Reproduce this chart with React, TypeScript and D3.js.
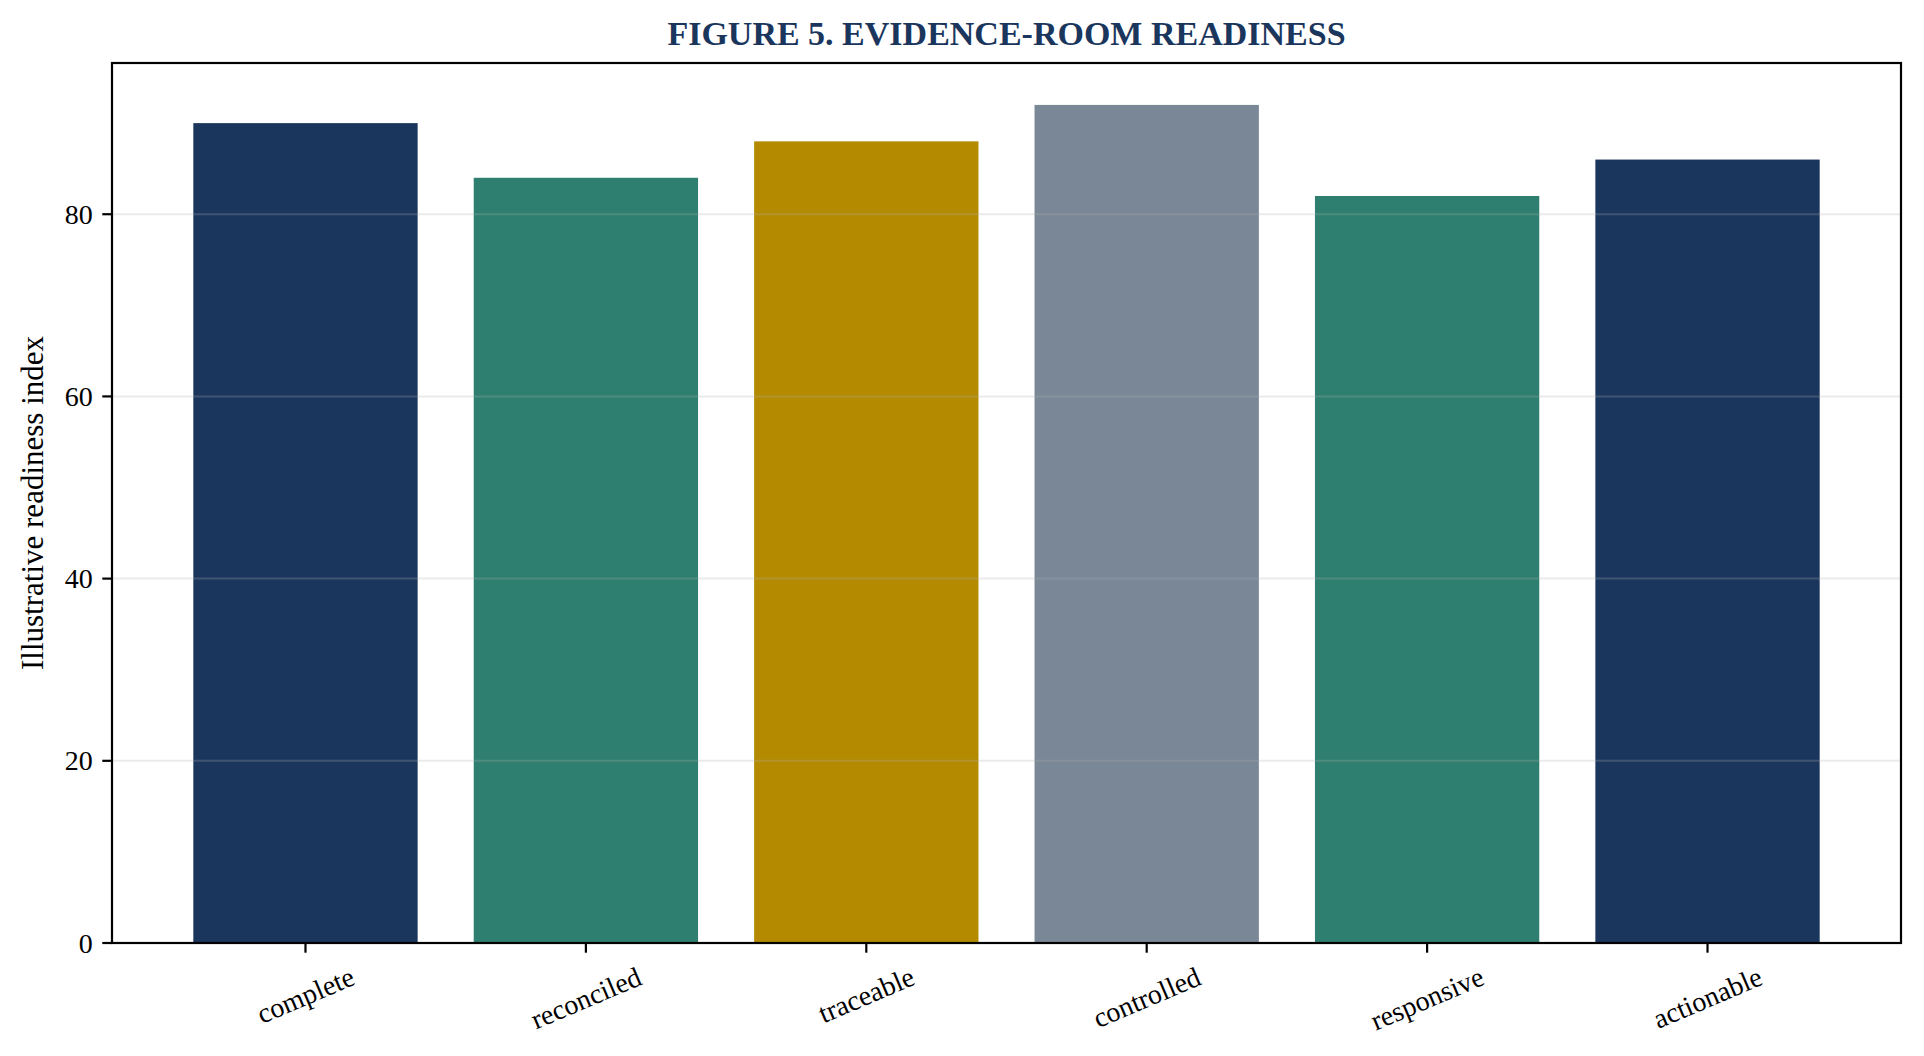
import React, { useRef, useEffect } from 'react';
import * as d3 from 'd3';

const CATEGORIES = ['complete', 'reconciled', 'traceable', 'controlled', 'responsive', 'actionable'];
const VALUES = [90, 84, 88, 92, 82, 86];
const BAR_COLORS = ['#1b365d', '#2e7f6f', '#b38a00', '#7a8796', '#2e7f6f', '#1b365d'];
const Y_TICKS = [0, 20, 40, 60, 80];

const TITLE = 'FIGURE 5. EVIDENCE-ROOM READINESS';
const Y_LABEL = 'Illustrative readiness index';

const WIDTH = 1924;
const HEIGHT = 1056;
const FONT = '"Liberation Serif", "Times New Roman", Times, serif';

const App: React.FC = () => {
    const svgRef = useRef<SVGSVGElement>(null);

    useEffect(() => {
        if (!svgRef.current) return;
        const svg = d3.select(svgRef.current);
        svg.selectAll('*').remove();

        const margin = { top: 63, right: WIDTH - 1901, bottom: HEIGHT - 943, left: 112 };
        const innerW = WIDTH - margin.left - margin.right;
        const innerH = HEIGHT - margin.top - margin.bottom;

        // matplotlib-like bar positions: width 0.8, 5% x margin
        const n = CATEGORIES.length;
        const span = (n - 1) + 0.8;
        const pad = span * 0.05;
        const x = d3.scaleLinear()
            .domain([-0.4 - pad, n - 1 + 0.4 + pad])
            .range([0, innerW]);

        const yMax = d3.max(VALUES)! * 1.05;
        const y = d3.scaleLinear().domain([0, yMax]).range([innerH, 0]);

        const g = svg.append('g').attr('transform', `translate(${margin.left},${margin.top})`);

        // bars
        g.selectAll('rect.bar')
            .data(VALUES)
            .join('rect')
            .attr('class', 'bar')
            .attr('x', (_, i) => x(i - 0.4))
            .attr('width', x(0.8) - x(0))
            .attr('y', d => y(d))
            .attr('height', d => y(0) - y(d))
            .attr('fill', (_, i) => BAR_COLORS[i]);

        // grid above bars
        g.selectAll('line.grid')
            .data(Y_TICKS)
            .join('line')
            .attr('class', 'grid')
            .attr('x1', 0)
            .attr('x2', innerW)
            .attr('y1', d => y(d))
            .attr('y2', d => y(d))
            .attr('stroke', '#b0b0b0')
            .attr('stroke-opacity', 0.25)
            .attr('stroke-width', 2);

        // frame
        g.append('rect')
            .attr('x', 0)
            .attr('y', 0)
            .attr('width', innerW)
            .attr('height', innerH)
            .attr('fill', 'none')
            .attr('stroke', '#000')
            .attr('stroke-width', 2.2);

        const tickLen = 9.7;
        const tickFont = 28;

        // y ticks
        const yt = g.selectAll('g.ytick').data(Y_TICKS).join('g')
            .attr('class', 'ytick')
            .attr('transform', d => `translate(0,${y(d)})`);
        yt.append('line')
            .attr('x1', -tickLen).attr('x2', 0)
            .attr('stroke', '#000').attr('stroke-width', 2.2);
        yt.append('text')
            .attr('x', -tickLen - 9.5)
            .attr('text-anchor', 'end')
            .attr('dominant-baseline', 'central')
            .attr('font-family', FONT)
            .attr('font-size', tickFont)
            .attr('fill', '#000')
            .text(d => d);

        // x ticks
        const xt = g.selectAll('g.xtick').data(CATEGORIES).join('g')
            .attr('class', 'xtick')
            .attr('transform', (_, i) => `translate(${x(i)},${innerH})`);
        xt.append('line')
            .attr('y1', 0).attr('y2', tickLen)
            .attr('stroke', '#000').attr('stroke-width', 2.2);
        const angle = 23;
        const rad = angle * Math.PI / 180;
        const fontH = tickFont * 1.15;
        xt.append('text')
            .attr('text-anchor', 'middle')
            .attr('dominant-baseline', 'central')
            .attr('font-family', FONT)
            .attr('font-size', tickFont)
            .attr('fill', '#000')
            .text(d => d)
            .each(function () {
                const w = (this as SVGTextElement).getComputedTextLength();
                const bh = w * Math.sin(rad) + fontH * Math.cos(rad);
                const cy = tickLen + 9.7 + bh / 2 - 2;
                d3.select(this).attr('transform', `translate(0,${cy}) rotate(${-angle})`);
            });

        // y label
        svg.append('text')
            .attr('transform', `translate(43,${margin.top + innerH / 2}) rotate(-90)`)
            .attr('text-anchor', 'middle')
            .attr('font-family', FONT)
            .attr('font-size', 31)
            .attr('fill', '#000')
            .text(Y_LABEL);

        // title
        svg.append('text')
            .attr('x', margin.left + innerW / 2)
            .attr('y', 44.5)
            .attr('text-anchor', 'middle')
            .attr('font-family', FONT)
            .attr('font-weight', 'bold')
            .attr('font-size', 34)
            .attr('fill', '#1b365d')
            .text(TITLE);
    }, []);

    return (
        <div style={{ position: 'absolute', left: 0, top: 0, width: WIDTH, height: HEIGHT, background: '#fff' }}>
            <svg ref={svgRef} width={WIDTH} height={HEIGHT} viewBox={`0 0 ${WIDTH} ${HEIGHT}`} style={{ display: 'block' }} />
        </div>
    );
};

export default App;
